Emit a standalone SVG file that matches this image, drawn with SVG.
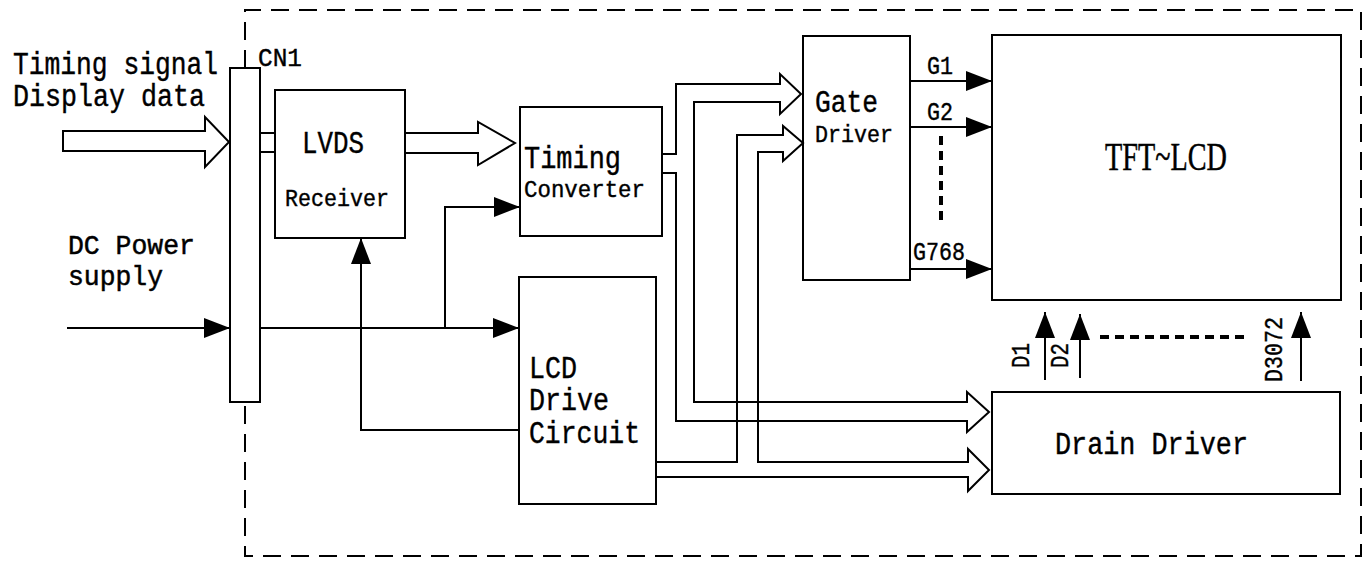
<svg xmlns="http://www.w3.org/2000/svg" width="1371" height="561" viewBox="0 0 1371 561">
<style>
.box{fill:#fff;stroke:#000;stroke-width:2}
.ln{fill:none;stroke:#000;stroke-width:2}
.bus{fill:none;stroke:#000;stroke-width:2;stroke-linejoin:miter}
.big{font-family:"Liberation Mono",monospace;font-size:31px;fill:#000;stroke:#000;stroke-width:0.4}
.dc{font-family:"Liberation Mono",monospace;font-size:27px;fill:#000;stroke:#000;stroke-width:0.5}
.mid{font-family:"Liberation Mono",monospace;font-size:26px;fill:#000;stroke:#000;stroke-width:0.4}
.small{font-family:"Liberation Mono",monospace;font-size:23px;fill:#000;stroke:#000;stroke-width:0.4}
.tft{font-family:"Liberation Serif",serif;font-size:41px;fill:#000;stroke:#000;stroke-width:0.5}
.dash{fill:none;stroke:#000;stroke-width:2;stroke-dasharray:18 10}
.dot{fill:none;stroke:#000;stroke-width:4;stroke-dasharray:9 6}
</style>
<defs>
<marker id="ah" viewBox="0 0 26 20" refX="26" refY="10" markerWidth="26" markerHeight="20" markerUnits="userSpaceOnUse" orient="auto">
<path d="M0,0 L26,10 L0,20 Z" fill="#000"/>
</marker>
</defs>
<rect width="1371" height="561" fill="#fff"/>
<path id="border" class="dash" d="M245,68 L245,10 L1361,10 L1361,556 L245,556 L245,402"/>
<g id="cn1">
<rect class="box" x="230" y="68" width="30" height="334"/>
<text class="mid" x="258" y="66" textLength="44" lengthAdjust="spacingAndGlyphs">CN1</text>
</g>
<g id="lvds">
<rect class="box" x="275" y="90" width="130" height="148"/>
<text class="big" x="302" y="153" textLength="62" lengthAdjust="spacingAndGlyphs">LVDS</text>
<text class="small" x="285" y="206" textLength="104" lengthAdjust="spacingAndGlyphs">Receiver</text>
</g>
<g id="timing">
<rect class="box" x="520" y="107" width="142" height="129"/>
<text class="big" x="524" y="168" textLength="97" lengthAdjust="spacingAndGlyphs">Timing</text>
<text class="small" x="524" y="197" textLength="121" lengthAdjust="spacingAndGlyphs">Converter</text>
</g>
<g id="lcddrive">
<rect class="box" x="519" y="277" width="137" height="227"/>
<text class="big" x="529" y="378" textLength="48" lengthAdjust="spacingAndGlyphs">LCD</text>
<text class="big" x="529" y="410" textLength="80" lengthAdjust="spacingAndGlyphs">Drive</text>
<text class="big" x="529" y="443" textLength="111" lengthAdjust="spacingAndGlyphs">Circuit</text>
</g>
<g id="gate">
<rect class="box" x="803" y="36" width="107" height="244"/>
<text class="big" x="815" y="112" textLength="63" lengthAdjust="spacingAndGlyphs">Gate</text>
<text class="small" x="815" y="142" textLength="78" lengthAdjust="spacingAndGlyphs">Driver</text>
</g>
<g id="tft">
<rect class="box" x="992" y="35" width="349" height="265"/>
<text class="tft" x="1105" y="170" textLength="122" lengthAdjust="spacingAndGlyphs">TFT~LCD</text>
</g>
<g id="drain">
<rect class="box" x="992" y="392" width="348" height="102"/>
<text class="big" x="1055" y="454" textLength="193" lengthAdjust="spacingAndGlyphs">Drain Driver</text>
</g>
<g id="labels">
<text class="big" x="13" y="74" textLength="205" lengthAdjust="spacingAndGlyphs">Timing signal</text>
<text class="big" x="13" y="106" textLength="192" lengthAdjust="spacingAndGlyphs">Display data</text>
<text class="dc" x="68" y="254" textLength="127" lengthAdjust="spacingAndGlyphs">DC Power</text>
<text class="dc" x="68" y="285" textLength="95" lengthAdjust="spacingAndGlyphs">supply</text>
<text class="mid" x="927" y="74" textLength="26" lengthAdjust="spacingAndGlyphs">G1</text>
<text class="mid" x="927" y="120" textLength="26" lengthAdjust="spacingAndGlyphs">G2</text>
<text class="mid" x="913" y="260" textLength="52" lengthAdjust="spacingAndGlyphs">G768</text>
<text class="mid" transform="translate(1029,368) rotate(-90)" textLength="25" lengthAdjust="spacingAndGlyphs">D1</text>
<text class="mid" transform="translate(1068,368) rotate(-90)" textLength="25" lengthAdjust="spacingAndGlyphs">D2</text>
<text class="mid" transform="translate(1282,382) rotate(-90)" textLength="65" lengthAdjust="spacingAndGlyphs">D3072</text>
</g>
<g id="connectors">
<path class="bus" d="M63,131 L205,131 L205,117 L229,142 L205,167 L205,151 L63,151 Z" fill="#fff"/>
<path class="bus" d="M260,133 L275,133 M260,152 L275,152"/>
<path class="bus" d="M405,133 L478,133 L478,122 L515,143 L478,165 L478,153 L405,153"/>
<path class="bus" d="M662,154 L676,154 L676,84 L780,84 L780,74 L801,94 L780,114 L780,102 L694,102 L694,402 L967,402 L967,392 L989,412 L967,432 L967,421 L676,421 L676,173 L662,173"/>
<path class="bus" d="M656,462 L737,462 L737,135 L783,135 L783,126 L803,143 L783,161 L783,152 L758,152 L758,462 L968,462 L968,449 L989,470 L968,491 L968,477 L656,477"/>
<path class="ln" d="M67,328 L230,328" marker-end="url(#ah)"/>
<path class="ln" d="M260,328 L519,328" marker-end="url(#ah)"/>
<path class="ln" d="M445,328 L445,207 L520,207" marker-end="url(#ah)"/>
<path class="ln" d="M519,430 L361,430 L361,238" marker-end="url(#ah)"/>
<path class="ln" d="M910,81 L992,81" marker-end="url(#ah)"/>
<path class="ln" d="M910,127 L992,127" marker-end="url(#ah)"/>
<path class="ln" d="M910,269 L992,269" marker-end="url(#ah)"/>
<path class="ln" d="M1045,380 L1045,312" marker-end="url(#ah)"/>
<path class="ln" d="M1080,378 L1080,314" marker-end="url(#ah)"/>
<path class="ln" d="M1301,381 L1301,312" marker-end="url(#ah)"/>
<path class="dot" d="M941,136 L941,225"/>
<path class="dot" d="M1100,337 L1248,337"/>
</g>
</svg>
